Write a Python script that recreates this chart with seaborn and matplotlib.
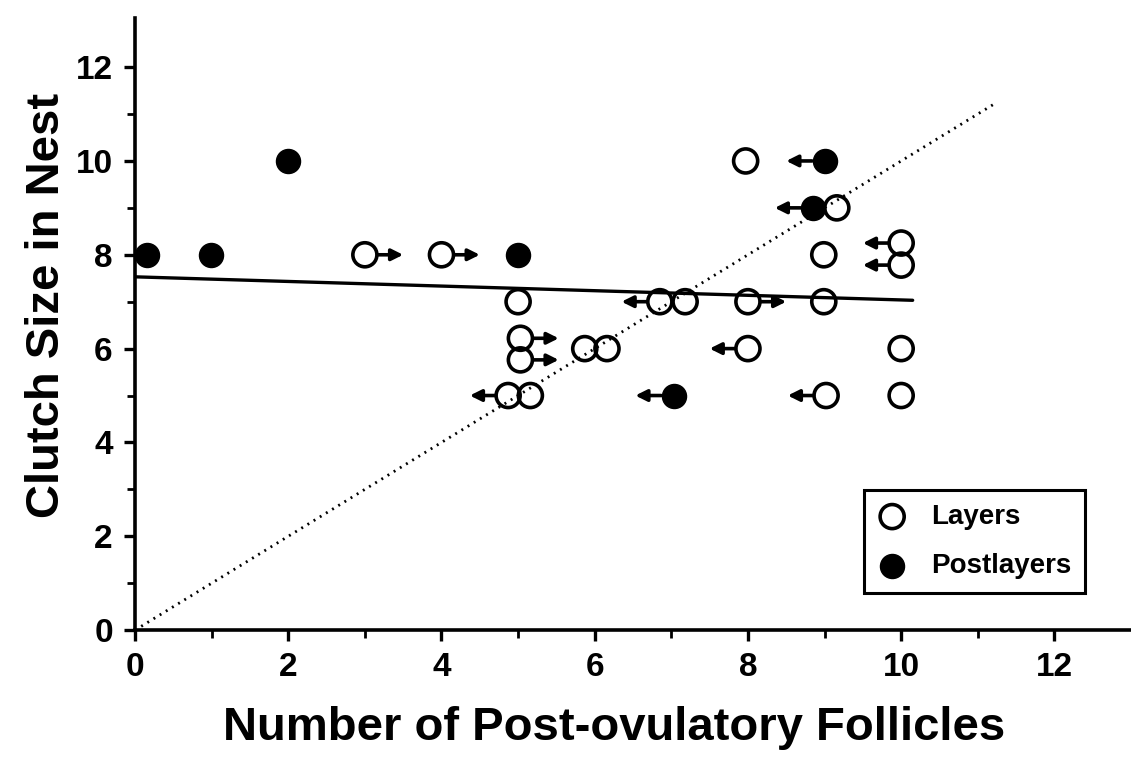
import numpy as np
import pandas as pd
import matplotlib
matplotlib.use("Agg")
import matplotlib.pyplot as plt
import seaborn as sns

# ---- data ----
layers_x = [3.0, 4.0, 5.0, 5.03, 5.03, 5.87, 6.16, 4.87, 5.16, 6.85, 7.18,
            7.97, 9.16, 8.99, 10.0, 10.0, 8.0, 8.99, 8.0, 9.02, 10.0, 10.0]
layers_y = [8, 8, 7, 6.22, 5.76, 6, 6, 5, 5, 7, 7,
            10, 9, 8, 8.25, 7.78, 7, 7, 6, 5, 6, 5]
layers_arrow = [1, 1, 0, 1, 1, 0, 0, -1, 0, -1, 0,
                0, 0, 0, -1, -1, 1, 0, -1, -1, 0, 0]

post_x = [0.15, 0.99, 2.0, 5.0, 7.03, 9.0, 8.85]
post_y = [8, 8, 10, 8, 5, 10, 9]
post_arrow = [0, 0, 0, 0, -1, -1, -1]

reg_x = [0.0, 10.15]
reg_y = [7.53, 7.03]

ident_x = [0.0, 11.2]
ident_y = [0.0, 11.2]

x_ticks = [0, 2, 4, 6, 8, 10, 12]
y_ticks = [0, 2, 4, 6, 8, 10, 12]

sns.set_theme(style="ticks")
plt.rcParams["font.family"] = ["Liberation Sans", "DejaVu Sans"]
plt.rcParams["font.weight"] = "bold"
plt.rcParams["text.color"] = "black"
plt.rcParams["axes.labelcolor"] = "black"

fig = plt.figure(figsize=(11.31, 7.76), dpi=100)
ax = fig.add_axes([0.1194, 0.188, 0.8806, 0.789])

layers = pd.DataFrame({"x": layers_x, "y": layers_y, "a": layers_arrow})
post = pd.DataFrame({"x": post_x, "y": post_y, "a": post_arrow})

# lines
sns.lineplot(x=ident_x, y=ident_y, ax=ax, color="black", lw=2.0,
             linestyle=(0, (0.7, 1.9)), zorder=1)
sns.lineplot(x=reg_x, y=reg_y, ax=ax, color="black", lw=2.4, zorder=2)

# arrows
arrow_len = 0.5
for df in (layers, post):
    for _, r in df.iterrows():
        if r["a"] != 0:
            ax.annotate("", xy=(r["x"] + r["a"] * arrow_len, r["y"]),
                        xytext=(r["x"], r["y"]),
                        arrowprops=dict(arrowstyle="-|>", color="black", lw=2.6,
                                        mutation_scale=17, shrinkA=9, shrinkB=0),
                        zorder=3)

sns.scatterplot(data=layers, x="x", y="y", ax=ax, s=300, marker="o",
                facecolor="none", edgecolor="black", linewidth=2.6,
                label="Layers", zorder=4, clip_on=False)
sns.scatterplot(data=post, x="x", y="y", ax=ax, s=300, marker="o",
                color="black", edgecolor="black", linewidth=1,
                label="Postlayers", zorder=5, clip_on=False)

ax.set_xlim(0, 13.0)
ax.set_ylim(0, 13.05)
ax.set_xticks(x_ticks)
ax.set_yticks(y_ticks)
ax.set_xticks(np.arange(1, 13, 2), minor=True)
ax.set_yticks(np.arange(1, 13, 2), minor=True)
ax.tick_params(axis="both", which="major", length=8, width=2.4, labelsize=24,
               color="black", labelcolor="black")
ax.tick_params(axis="both", which="minor", length=6, width=2.0, color="black")
ax.tick_params(axis="x", which="major", pad=8)
ax.tick_params(axis="y", which="major", pad=8)
for lab in ax.get_xticklabels() + ax.get_yticklabels():
    lab.set_fontweight("bold")

sns.despine(ax=ax)
for sp in ("left", "bottom"):
    ax.spines[sp].set_linewidth(2.6)
    ax.spines[sp].set_color("black")

ax.set_xlabel("Number of Post-ovulatory Follicles", fontsize=34,
              fontweight="bold", va="center", color="black")
ax.xaxis.set_label_coords(0.481, -0.160)
ax.set_ylabel("Clutch Size in Nest", fontsize=34, fontweight="bold",
              va="center", color="black")
ax.yaxis.set_label_coords(-0.088, 0.531)

leg = ax.legend(loc="lower right", bbox_to_anchor=(0.954, 0.060),
                fontsize=20, frameon=True, fancybox=False, framealpha=1,
                edgecolor="black", borderpad=0.5, labelspacing=0.85,
                handlelength=1.0, handletextpad=0.9, borderaxespad=0)
leg.get_frame().set_linewidth(2.2)
for t in leg.get_texts():
    t.set_fontweight("bold")
    t.set_color("black")

fig.savefig("out.png", dpi=100)
